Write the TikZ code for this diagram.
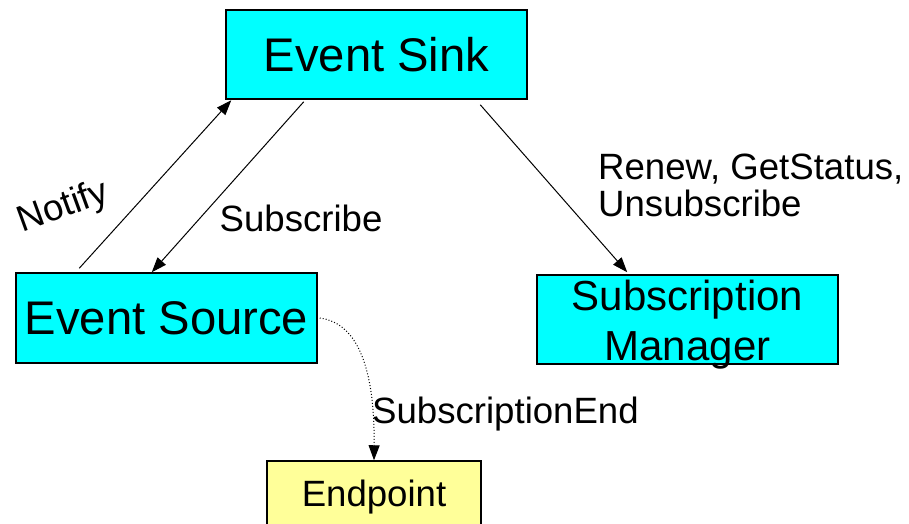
\documentclass[tikz,border=0pt]{standalone}
\usepackage{fontspec}
\setmainfont{Liberation Sans}
\usetikzlibrary{arrows.meta,calc}

\definecolor{boxcyan}{HTML}{00FFFF}
\definecolor{boxyellow}{HTML}{FFFF99}

\tikzset{
  svcbox/.style={draw=black, line width=1.5pt, fill=boxcyan, inner sep=0pt},
  endbox/.style={draw=black, line width=1.5pt, fill=boxyellow, inner sep=0pt},
  bigtext/.style={font=\fontsize{47.2}{48}\selectfont},
  midtext/.style={font=\fontsize{42}{50}\selectfont},
  lbl/.style={font=\fontsize{36.6}{37}\selectfont, inner sep=0pt},
  msg/.style={line width=1pt, -{Triangle[length=15pt,width=11pt]}},
  endmsg/.style={msg, dotted}
}

\begin{document}
\begin{tikzpicture}[x=1pt, y=-1pt]
  \useasboundingbox (0,0) rectangle (909,523);

  % service boxes
  \node[svcbox, bigtext, minimum width=301pt, minimum height=89pt] (sink) at (376.5,54.5) {Event Sink};
  \node[svcbox, bigtext, minimum width=301pt, minimum height=90pt] (src) at (166.5,318) {Event Source};
  % the two-line name sits low in its box, the last line dropping past the lower edge
  \node[svcbox, midtext, minimum width=301pt, minimum height=89pt] (mgr) at (687.5,319.5)
    {\raisebox{-40.5pt}[0pt][0pt]{\begin{tabular}[b]{@{}c@{}}Subscription\\Manager\end{tabular}}};
  \node[endbox, lbl, minimum width=214pt, minimum height=73pt] (ep) at (374,497.5) {Endpoint};

  % messages
  \draw[msg] ([xshift=64pt, yshift=4pt]src.north west) -- ([xshift=6pt, yshift=-0.5pt]sink.south west);
  \draw[msg] ([xshift=78.5pt, yshift=-2pt]sink.south west) -- ([xshift=136.5pt]src.north west);
  \draw[msg] ([xshift=-47.5pt, yshift=-5pt]sink.south east) -- ([xshift=91pt, yshift=2pt]mgr.north west);
  \draw[endmsg] ([xshift=2pt]src.east) .. controls ($(src.east)+(33,4)$) and ($(ep.north)+(1,-106)$) .. (ep.north);

  % message labels
  \node[lbl, rotate=20] (notify) at (63.5,208) {Notify};
  \node[lbl, anchor=base west] (subscribe) at (219.5,231) {Subscribe};
  \node[lbl, anchor=north west, align=left] (mgrops) at (598,154) {Renew, GetStatus,\\Unsubscribe};
  \node[lbl, anchor=base west] (subend) at (372,423) {SubscriptionEnd};
\end{tikzpicture}
\end{document}
